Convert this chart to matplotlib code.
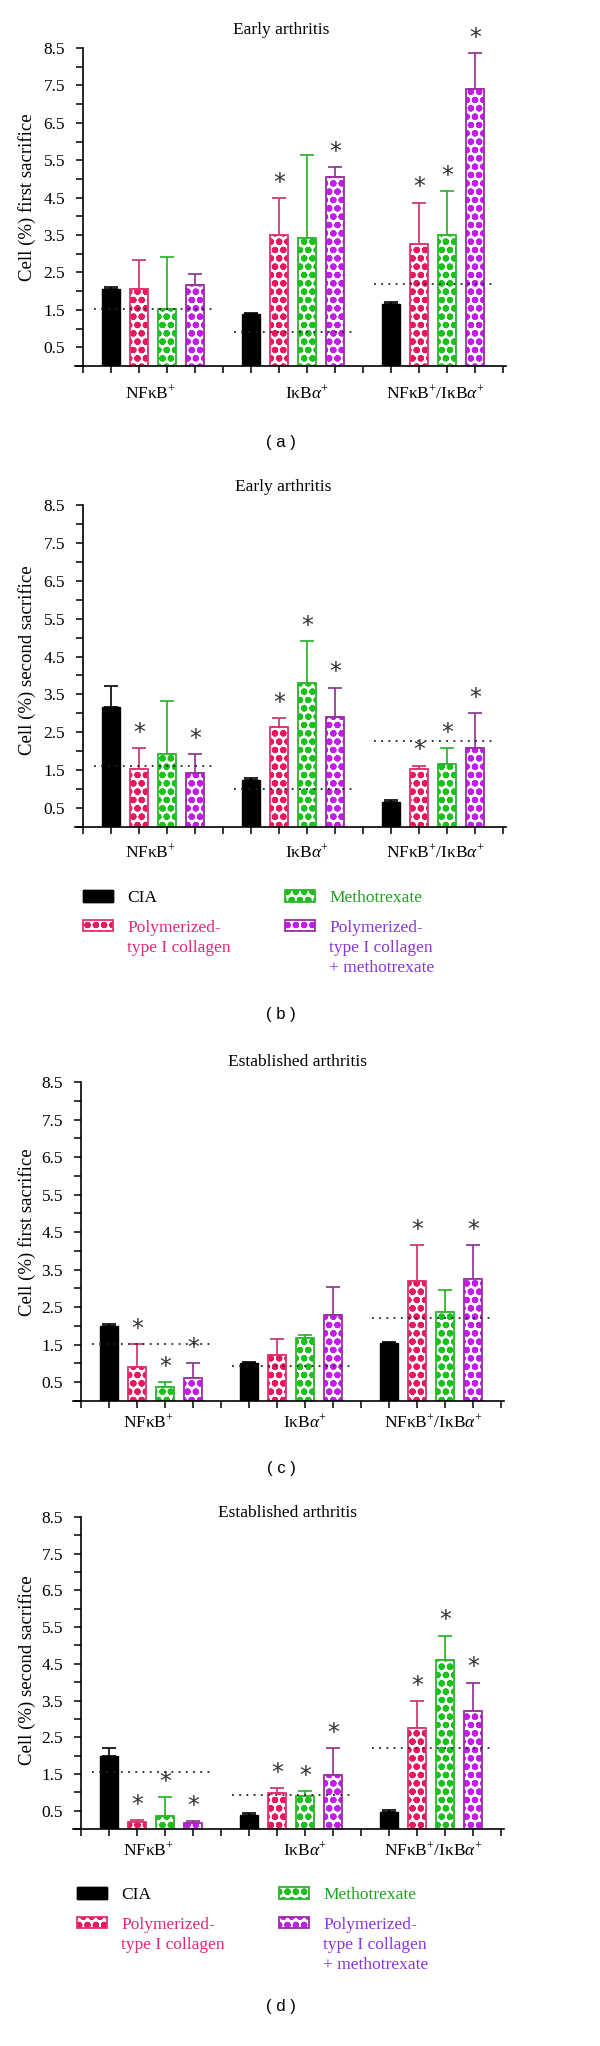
import numpy as np
import matplotlib
matplotlib.use('Agg')
import matplotlib.pyplot as plt
from matplotlib.ticker import MultipleLocator
from matplotlib.legend_handler import HandlerTuple

plt.rcParams['font.family'] = ['Liberation Serif', 'DejaVu Serif']
plt.rcParams['mathtext.fontset'] = 'custom'
plt.rcParams['mathtext.rm'] = 'Liberation Serif'
plt.rcParams['mathtext.it'] = 'Liberation Serif:italic'
plt.rcParams['hatch.linewidth'] = 2.2

# ---- data ----
groups = ['NFκB$^{+}$', 'IκB$\\alpha^{+}$', 'NFκB$^{+}$/IκB$\\alpha^{+}$']
treatments = ['CIA', 'Polymerized-\ntype I collagen', 'Methotrexate',
              'Polymerized-\ntype I collagen\n+ methotrexate']

# values are ordered group by group: CIA, Poly, MTX, Poly+MTX
a_vals = [2.07, 2.05, 1.53, 2.16, 1.39, 3.50, 3.41, 5.05, 1.67, 3.26, 3.50, 7.41]
a_err = [0.04, 0.77, 1.38, 0.30, 0.04, 0.98, 2.22, 0.26, 0.03, 1.11, 1.17, 0.96]
a_sig = [0, 0, 0, 0, 0, 1, 0, 1, 0, 1, 1, 1]
a_ref = [1.53, 0.92, 2.20]

b_vals = [3.16, 1.52, 1.94, 1.43, 1.25, 2.63, 3.80, 2.90, 0.66, 1.52, 1.66, 2.08]
b_err = [0.57, 0.57, 1.38, 0.50, 0.05, 0.25, 1.10, 0.78, 0.05, 0.10, 0.43, 0.93]
b_sig = [0, 1, 0, 1, 0, 1, 1, 1, 0, 1, 1, 1]
b_ref = [1.61, 1.00, 2.27]

c_vals = [2.00, 0.90, 0.36, 0.62, 1.01, 1.22, 1.67, 2.29, 1.55, 3.20, 2.36, 3.26]
c_err = [0.06, 0.62, 0.14, 0.39, 0.02, 0.42, 0.09, 0.76, 0.03, 0.96, 0.61, 0.90]
c_sig = [0, 1, 1, 1, 0, 0, 0, 0, 0, 1, 0, 1]
c_ref = [1.53, 0.92, 2.21]

d_vals = [2.00, 0.19, 0.35, 0.15, 0.39, 0.98, 0.89, 1.47, 0.47, 2.75, 4.61, 3.22]
d_err = [0.22, 0.05, 0.52, 0.06, 0.04, 0.13, 0.14, 0.73, 0.04, 0.73, 0.66, 0.77]
d_sig = [0, 1, 1, 1, 0, 1, 1, 1, 0, 1, 1, 1]
d_ref = [1.54, 0.93, 2.20]

# ---- styling ----
dot_cols = ['black', '#E8185C', '#1CC01C', '#C21DEB']
edge_cols = ['black', '#E3306E', '#2DB52D', '#9A2FA0']
err_cols = ['black', '#C8306A', '#22B022', '#8B2D8B']
text_cols = ['black', '#E0287A', '#1FA31F', '#8A35DD']

W, H = 600, 2046
fig = plt.figure(figsize=(W / 100, H / 100), dpi=100)

XPX = 28.0   # pixels per x unit
XMIN, XMAX = -0.3, 15.1


def make_axes(spine_x, y0, y85):
    left = spine_x + XMIN * XPX
    width = (XMAX - XMIN) * XPX
    ax = fig.add_axes([left / W, 1 - y0 / H, width / W, (y0 - y85) / H])
    return ax


def draw_panel(ax, vals, err, sig, ref, geo, ylabel, title, tag, legend_top=None):
    vals = np.array(vals).reshape(3, 4)
    err = np.array(err).reshape(3, 4)
    sig = np.array(sig).reshape(3, 4)
    handles = []
    for t in range(4):
        x = np.arange(3) * 5 + 1 + t
        if t == 0:
            b1 = ax.bar(x, vals[:, t], 0.65, color='black', edgecolor='black',
                        linewidth=1, zorder=2)
            b2 = b1
        else:
            b1 = ax.bar(x, vals[:, t], 0.65, color='white', edgecolor=dot_cols[t],
                        hatch='oo', linewidth=0, zorder=2)
            b2 = ax.bar(x, vals[:, t], 0.65, fill=False, edgecolor=edge_cols[t],
                        linewidth=1.3, zorder=2.1)
        handles.append((b1[0], b2[0]))
        ax.errorbar(x, vals[:, t], yerr=[np.zeros(3), err[:, t]], fmt='none',
                    ecolor=err_cols[t], elinewidth=1.2, capsize=4.8, capthick=1.2,
                    zorder=1.9)
        for g in range(3):
            if sig[g, t]:
                ax.annotate('*', (x[g], vals[g, t] + err[g, t]), xytext=(0, 11),
                            textcoords='offset points', ha='center', va='center',
                            fontsize=17, color='#333333', family='DejaVu Sans')
    centers = np.arange(3) * 5 + 2.5
    ax.hlines(ref, centers - 2.1, centers + 2.1, colors='#222222',
              linestyles=(0, (1, 3)), linewidth=1.3, zorder=3)

    ax.set_xlim(XMIN, XMAX)
    ax.set_ylim(0, 8.5)
    ax.spines['top'].set_visible(False)
    ax.spines['right'].set_visible(False)
    ax.spines['left'].set_position(('data', 0))
    ax.spines['left'].set_linewidth(1.2)
    ax.spines['bottom'].set_linewidth(1.2)
    ax.set_xticks(np.arange(0, 16))
    ax.set_xticklabels([])
    ax.set_yticks(np.arange(0.5, 8.6, 1.0))
    ax.set_yticklabels(['%.1f' % v for v in np.arange(0.5, 8.6, 1.0)])
    ax.yaxis.set_minor_locator(MultipleLocator(1.0))
    ax.tick_params(axis='both', which='both', direction='out', length=5, width=1.1,
                   labelsize=12.5, pad=8)
    ax.tick_params(axis='x', pad=2)

    spine_x, y0, y85, title_x, title_y, lab_y, ylab_y, tag_y = geo
    lab_pos = -(lab_y - y0) / (y0 - y85)
    for gx, name in zip([2.4, 8.0, 12.6], groups):
        ax.text(gx, lab_pos, name, transform=ax.get_xaxis_transform(), ha='center',
                va='center', fontsize=12.5)
    fig.text(title_x / W, 1 - title_y / H, title, ha='center', va='center',
             fontsize=12.5)
    fig.text(27 / W, 1 - ylab_y / H, ylabel, rotation=90, ha='center',
             va='center', fontsize=13.5)
    fig.text(281 / W, 1 - tag_y / H, '( %s )' % tag, ha='center', va='center',
             fontsize=12, family='Liberation Sans')

    if legend_top is not None:
        lx, ly = legend_top
        leg = fig.legend(handles, treatments, loc='upper left',
                         bbox_to_anchor=(lx / W, 1 - ly / H), ncol=2,
                         frameon=False, borderpad=0, borderaxespad=0,
                         handlelength=1.75, handleheight=0.65, handletextpad=0.8,
                         columnspacing=3.1, labelspacing=0.8, fontsize=12.5,
                         handler_map={tuple: HandlerTuple(ndivide=1, pad=0)})
        for txt, c in zip(leg.get_texts(), text_cols):
            txt.set_color(c)
            txt.set_linespacing(1.35)
        # keep the swatch level with the first line of multi-line labels
        for col in leg._legend_handle_box.get_children():
            for entry in col.get_children():
                entry.align = 'top'


# panel geometry: spine_x, y0, y85, title_x, title_y, label_y, ylabel_y, tag_y
geo_a = (83, 366, 48, 281, 30, 393, 197, 442)
geo_b = (83, 827, 505, 283, 487, 852, 660, 1015)
geo_c = (81, 1401, 1082, 298, 1062, 1422, 1232, 1468)
geo_d = (81, 1829, 1517, 287, 1513, 1850, 1670, 2007)

ax_a = make_axes(*geo_a[:3])
draw_panel(ax_a, a_vals, a_err, a_sig, a_ref, geo_a,
           'Cell (%) first sacrifice', 'Early arthritis', 'a')
ax_b = make_axes(*geo_b[:3])
draw_panel(ax_b, b_vals, b_err, b_sig, b_ref, geo_b,
           'Cell (%) second sacrifice', 'Early arthritis', 'b', legend_top=(83, 890))
ax_c = make_axes(*geo_c[:3])
draw_panel(ax_c, c_vals, c_err, c_sig, c_ref, geo_c,
           'Cell (%) first sacrifice', 'Established arthritis', 'c')
ax_d = make_axes(*geo_d[:3])
draw_panel(ax_d, d_vals, d_err, d_sig, d_ref, geo_d,
           'Cell (%) second sacrifice', 'Established arthritis', 'd', legend_top=(77, 1887))

fig.savefig('out.png', dpi=100)
